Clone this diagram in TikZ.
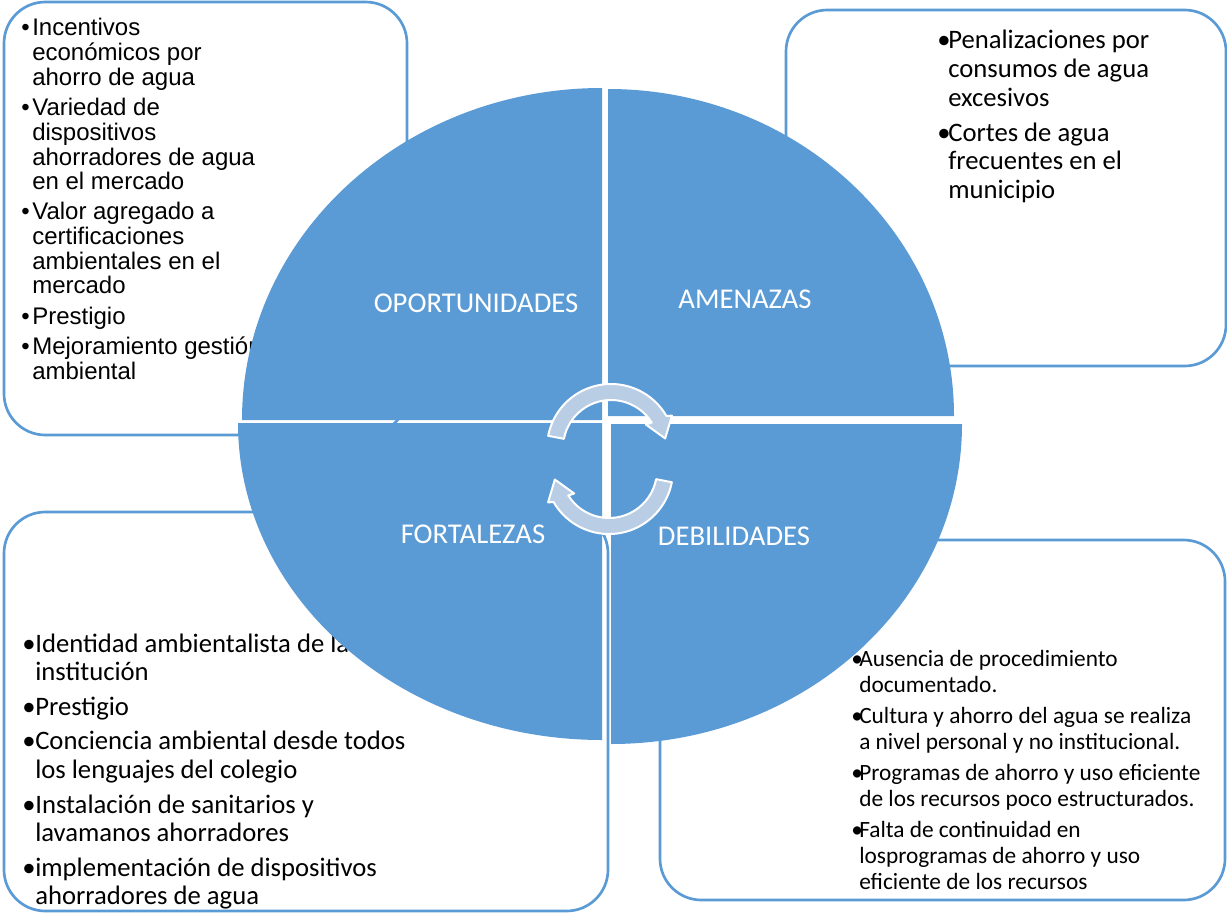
\documentclass[tikz,border=0pt]{standalone}
\usepackage{fontspec}
\setmainfont{Carlito}
\newfontfamily\arial{Liberation Sans}
\usetikzlibrary{calc,positioning}
\definecolor{azulfondo}{RGB}{91,155,213}
\definecolor{azulflecha}{RGB}{185,205,229}
\newlength\sangria
\newcommand{\vi}{\makebox[\sangria][l]{\textbullet}}

\begin{document}
\begin{tikzpicture}[x=0.75pt,y=-0.75pt,line join=round]
\tikzset{caja/.style={draw=azulfondo,line width=2pt,fill=white,rounded corners=31pt},
  cuarto/.style={fill=azulfondo},
  titulo/.style={anchor=base,inner sep=0pt,text=white,font=\fontsize{21.5pt}{25pt}\selectfont},
  lista/.style={anchor=base west,inner sep=0pt},
  flecha/.style={fill=azulflecha,draw=white,line width=1.5pt}}
\useasboundingbox (0,0) rectangle (1227,913);
% cajas
\draw[caja] (4,2) rectangle (407,435);
\draw[caja] (786,10) rectangle (1226,366);
\draw[caja] (4,512) rectangle (608,911);
\draw[caja] (660,540) rectangle (1225,900);
% textos de las cajas
\node[lista,font={\arial\fontsize{18pt}{18.2pt}\selectfont\setlength\sangria{8.25pt}\def\hueco{4.1pt}}] (txtop) at (21,36)
  {\begin{tabular}[t]{@{}l@{}l@{}}
  \vi & Incentivos\\ & económicos por\\ & ahorro de agua\\[\hueco]
  \vi & Variedad de\\ & dispositivos\\ & ahorradores de agua\\ & en el mercado\\[\hueco]
  \vi & Valor agregado a\\ & certificaciones\\ & ambientales en el\\ & mercado\\[\hueco]
  \vi & Prestigio\\[\hueco]
  \vi & Mejoramiento gestión\\ & ambiental
  \end{tabular}};
\node[lista,font={\fontsize{20pt}{21.4pt}\selectfont\setlength\sangria{8.25pt}\def\hueco{4.9pt}}] (txtam) at (937,49)
  {\begin{tabular}[t]{@{}l@{}l@{}}
  \vi & Penalizaciones por\\ & consumos de agua\\ & excesivos\\[\hueco]
  \vi & Cortes de agua\\ & frecuentes en el\\ & municipio
  \end{tabular}};
\node[lista,font={\fontsize{20pt}{21.45pt}\selectfont\setlength\sangria{9.75pt}\def\hueco{4.5pt}}] (txtfo) at (22,652)
  {\begin{tabular}[t]{@{}l@{}l@{}}
  \vi & Identidad ambientalista de la\\ & institución\\[\hueco]
  \vi & Prestigio\\[\hueco]
  \vi & Conciencia ambiental desde todos\\ & los lenguajes del colegio\\[\hueco]
  \vi & Instalación de sanitarios y\\ & lavamanos ahorradores\\[\hueco]
  \vi & implementación de dispositivos\\ & ahorradores de agua
  \end{tabular}};
\node[lista,font={\fontsize{17.5pt}{19.6pt}\selectfont\setlength\sangria{6pt}\def\hueco{3.6pt}}] (txtde) at (851,666)
  {\begin{tabular}[t]{@{}l@{}l@{}}
  \vi & Ausencia de procedimiento\\ & documentado.\\[\hueco]
  \vi & Cultura y ahorro del agua se realiza\\ & a nivel personal y no institucional.\\[\hueco]
  \vi & Programas de ahorro y uso eficiente\\ & de los recursos poco estructurados.\\[\hueco]
  \vi & Falta de continuidad en\\ & losprogramas de ahorro y uso\\ & eficiente de los recursos
  \end{tabular}};
% circulo en cuatro partes
\foreach \cx/\cy/\rx/\ry/\a in {602/420/360/332/180,608/416/346/327/270,611/424/351/320/0,602/423/364/317/90}
  \fill[cuarto] (\cx,\cy) -- ++({\rx*cos(\a)},{\ry*sin(\a)}) arc[start angle=\a,delta angle=90,x radius=\rx,y radius=\ry] -- cycle;
\foreach \nom/\px/\py/\txt in {oport/476/312/OPORTUNIDADES,amen/745/308/AMENAZAS,fort/473/543/FORTALEZAS,debil/734/545/DEBILIDADES}
  \node[titulo] (\nom) at (\px,\py) {\txt};
% flechas del ciclo
\coordinate (ca) at (611,448);
\coordinate (cb) at (609,470);
\draw[flecha] ($(ca)+(191:64)$) arc[start angle=191,end angle=330,radius=64] -- ($(ca)+(332:69)$)
  -- ($(ca)+(350:55)$) -- ($(ca)+(326:42)$) -- ($(ca)+(328:48)$) arc[start angle=328,end angle=191,radius=48] -- cycle;
\draw[flecha] ($(cb)+(11:64)$) arc[start angle=11,end angle=150,radius=64] -- ($(cb)+(152:69)$)
  -- ($(cb)+(170:55)$) -- ($(cb)+(146:42)$) -- ($(cb)+(148:48)$) arc[start angle=148,end angle=11,radius=48] -- cycle;
\end{tikzpicture}
\end{document}
